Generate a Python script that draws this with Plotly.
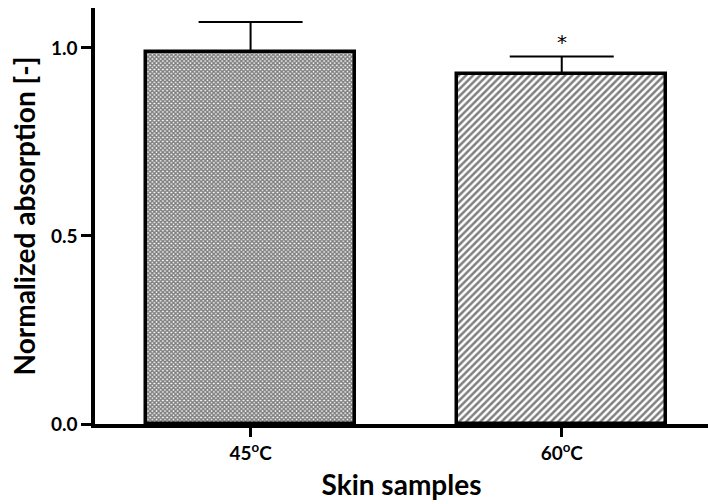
import plotly.graph_objects as go

# Skin sample groups and their normalized absorption (mean + SD)
categories = ["45<sup>o</sup>C", "60<sup>o</sup>C"]
means = [0.989, 0.931]
sd_upper = [0.080, 0.046]
significance = ["", "*"]

y_ticks = [0.0, 0.5, 1.0]
y_tick_labels = ["0.0", "0.5", "1.0"]

FONT = "Lato"

fig = go.Figure()

fig.add_trace(go.Bar(
    x=[0], y=[means[0]], width=0.673,
    marker=dict(
        color="white",
        line=dict(color="black", width=3.5),
        pattern=dict(shape="x", size=3, solidity=0.75, fgcolor="black", bgcolor="white"),
    ),
    error_y=dict(type="data", symmetric=False, array=[sd_upper[0]], arrayminus=[0],
                 color="black", thickness=2, width=52),
    showlegend=False,
))
fig.add_trace(go.Bar(
    x=[1], y=[means[1]], width=0.673,
    marker=dict(
        color="white",
        line=dict(color="black", width=3.5),
        pattern=dict(shape="/", size=5, solidity=0.5, fgcolor="black", bgcolor="white"),
    ),
    error_y=dict(type="data", symmetric=False, array=[sd_upper[1]], arrayminus=[0],
                 color="black", thickness=2, width=52),
    showlegend=False,
))

# significance marker above the error bar
for i, s in enumerate(significance):
    if s:
        fig.add_annotation(x=i, y=means[i] + sd_upper[i], text=s, showarrow=False,
                           yanchor="bottom", yshift=1,
                           font=dict(family="DejaVu Sans", size=20, color="black"))

fig.update_layout(
    width=708, height=504,
    margin=dict(l=95, r=0, t=8, b=80),
    plot_bgcolor="white", paper_bgcolor="white",
    font=dict(family=FONT, color="black"),
    bargap=0,
)
fig.update_xaxes(
    range=[-0.5, 1.47],
    tickmode="array", tickvals=[0, 1], ticktext=categories,
    ticks="outside", ticklen=9, tickwidth=3, tickcolor="black",
    showline=True, linecolor="black", linewidth=3.5,
    showgrid=False, zeroline=False,
    tickfont=dict(family=FONT, size=19, color="black", weight="bold"),
    title=dict(text="Skin samples", font=dict(family=FONT, size=28, weight="bold"), standoff=14),
)
fig.update_yaxes(
    range=[0, 1.106],
    tickmode="array", tickvals=y_ticks, ticktext=y_tick_labels,
    ticks="outside", ticklen=10, tickwidth=3, tickcolor="black",
    showline=True, linecolor="black", linewidth=3.5,
    showgrid=False, zeroline=False,
    tickfont=dict(family=FONT, size=19, color="black", weight="bold"),
    title=dict(text="Normalized absorption [-]", font=dict(family=FONT, size=28, weight="bold"), standoff=8),
)

fig.write_html("out.html")
